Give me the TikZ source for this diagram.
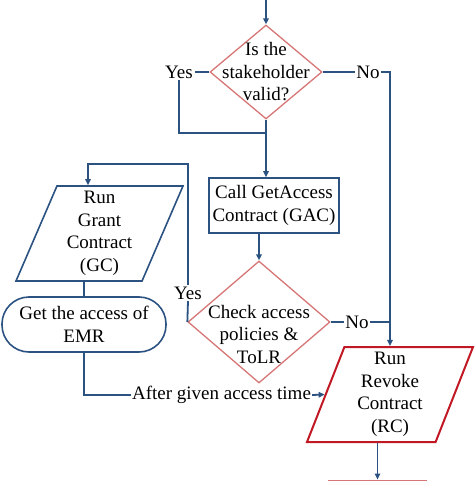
\documentclass[tikz,border=0pt]{standalone}
\usepackage{fontspec}
\setmainfont{Liberation Serif}
\usetikzlibrary{shapes.geometric,arrows.meta}
\definecolor{flowblue}{RGB}{44,82,130}
\definecolor{checkred}{RGB}{214,118,118}
\definecolor{runred}{RGB}{192,24,36}
\tikzset{
  every node/.style={font=\fontsize{19}{22.5}\selectfont, align=center},
  link/.style={draw=flowblue, line width=1.8pt},
  linkto/.style={link, -{Triangle[length=6pt,width=5.5pt]}},
  choice/.style={diamond, draw=checkred, line width=1.3pt, inner sep=0pt},
  blockbox/.style={draw=flowblue, line width=1.6pt},
  word/.style={inner sep=1.5pt}
}
\begin{document}
\begin{tikzpicture}[x=1pt,y=-1pt]
  \useasboundingbox (0,0) rectangle (474,481);

  \coordinate (start) at (266,0);
  \node[choice, minimum width=112pt, minimum height=94pt] (valid) at (266,72) {};
  \node[inner sep=0pt] (validtxt) at (valid) {Is the\\stakeholder\\valid?};
  \node[word] (yesA) at (179,72) {Yes};
  \node[word] (noA) at (368,72) {No};
  \coordinate (joinA) at (266,133);

  \node[blockbox, minimum width=130pt, minimum height=55pt] (getac) at (274,205.5) {Call GetAccess\\Contract (GAC)};

  \node[choice, minimum width=142pt, minimum height=122pt] (check) at (259,322) {};
  \node[inner sep=0pt] (checktxt) at (259,334) {Check access\\policies \&\\ToLR};
  \node[word] (yesB) at (188,293) {Yes};
  \node[word] (noB) at (357,322) {No};
  \coordinate (joinB) at (88,164);

  \node[blockbox, trapezium, trapezium left angle=64, trapezium right angle=116,
        trapezium stretches body, minimum width=167pt, minimum height=95pt, inner sep=0pt]
        (grant) at (99.5,233.5) {Run\\Grant\\Contract\\(GC)};
  \node[blockbox, rounded corners=27pt, minimum width=164pt, minimum height=55pt]
        (emr) at (84,324.5) {Get the access of\\EMR};
  \node[word, inner sep=1pt] (after) at (221.5,395) {After given access time};

  \node[trapezium, draw=runred, line width=2pt, trapezium left angle=66, trapezium right angle=114,
        trapezium stretches body, minimum width=166pt, minimum height=95pt, inner sep=0pt]
        (revoke) at (390,394.5) {Run\\Revoke\\Contract\\(RC)};
  \node[draw=checkred, line width=1.3pt, minimum width=97pt, minimum height=30pt, anchor=north]
        (nextstep) at (377.5,479.5) {};

  \draw[linkto] (start) -- (valid.north);
  \draw[link] (valid.west) -- (yesA.east);
  \draw[link] (yesA.south) |- (joinA);
  \draw[linkto] (valid.south) -- (valid.south |- getac.north);
  \draw[link] (valid.east) -- (noA.west);
  \draw[linkto] (noA.east) -| (revoke.north);

  \draw[linkto] (check.north |- getac.south) -- (check.north);
  \draw[link] (check.east) -- (noB.west);
  \draw[link] (noB.east) -- (noB.east -| revoke.north);
  \draw[link] (check.west) -- (yesB.south);
  \draw[linkto] (yesB.north) |- (joinB) -- (joinB |- grant.north);

  \draw[link] (emr.north |- grant.south) -- (emr.north);
  \draw[link] (emr.south) |- (after.west);
  \draw[linkto] (after.east) -- (revoke.west);
  \draw[linkto] (nextstep.north |- revoke.south) -- (nextstep.north);
\end{tikzpicture}
\end{document}
